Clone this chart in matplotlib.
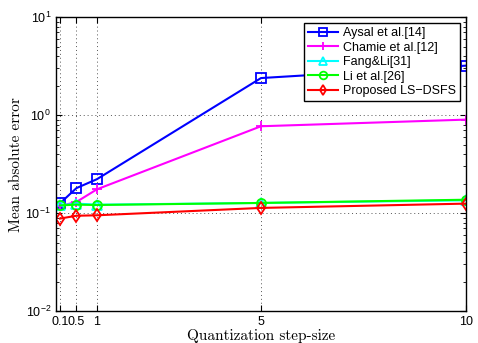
import matplotlib
matplotlib.use("Agg")
import matplotlib.pyplot as plt
import numpy as np

# data
steps = [0.1, 0.5, 1, 5, 10]
aysal = [0.126, 0.18, 0.222, 2.39, 3.2]
chamie = [0.118, 0.13, 0.175, 0.77, 0.9]
fangli = [0.12, 0.125, 0.122, 0.127, 0.135]
li = [0.12, 0.122, 0.121, 0.127, 0.137]
proposed = [0.088, 0.094, 0.095, 0.113, 0.125]

names = ['Aysal et al.[14]', 'Chamie et al.[12]', 'Fang&Li[31]', 'Li et al.[26]', 'Proposed LS\u2212DSFS']
series = [aysal, chamie, fangli, li, proposed]
colors = ['#0000ff', '#ff00ff', '#00ffff', '#00ff00', '#ff0000']
markers = ['s', '+', '^', 'o', 'd']

plt.rcParams['font.family'] = ['Liberation Sans', 'DejaVu Sans']
plt.rcParams['xtick.direction'] = 'in'
plt.rcParams['ytick.direction'] = 'in'

fig = plt.figure(figsize=(4.78, 3.43), dpi=100)
ax = fig.add_axes([0.117, 0.093, 0.858, 0.857])

for s, n, c, m in zip(series, names, colors, markers):
    ax.plot(steps, s, color=c, marker=m, markerfacecolor='none', markeredgecolor=c,
            markersize=6.5, markeredgewidth=1.3, linewidth=1.5, label=n)

ax.set_yscale('log')
ax.set_xlim(0, 10)
ax.set_ylim(1e-2, 1e1)
ax.set_xticks(steps)
ax.set_xticklabels(['0.1', '0.5', '1', '5', '10'])
ax.tick_params(axis='both', which='both', top=True, right=True, labelsize=9)
ax.tick_params(which='major', length=4)
ax.tick_params(which='minor', length=2)
ax.grid(True, which='major', linestyle=(0, (1, 3)), color='#555555', linewidth=0.7)
for sp in ax.spines.values():
    sp.set_linewidth(1.0)

ax.set_xlabel('Quantization step-size', fontfamily='cmr10', fontsize=11, labelpad=1)
ax.set_ylabel('Mean absolute error', fontfamily='cmr10', fontsize=11, labelpad=2)

leg = ax.legend(loc='upper right', fontsize=9, fancybox=False, framealpha=1,
                edgecolor='black', handlelength=2.4, handletextpad=0.4, borderpad=0.3,
                labelspacing=0.2, borderaxespad=0.5, markerscale=0.85)
leg.get_frame().set_linewidth(1.0)

fig.savefig('out.png', dpi=100)
